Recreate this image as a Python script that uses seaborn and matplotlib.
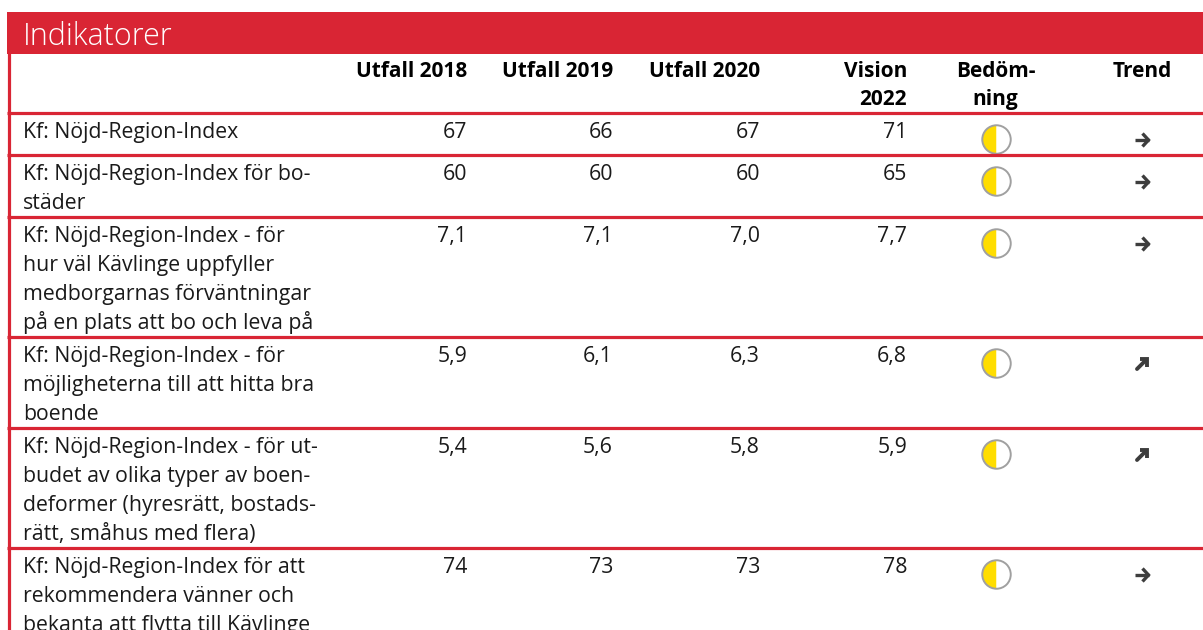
import matplotlib
matplotlib.use("Agg")
import matplotlib.pyplot as plt
from matplotlib.patches import Rectangle
import seaborn as sns

# table content
indicators = [
    ["Kf: Nöjd-Region-Index"],
    ["Kf: Nöjd-Region-Index för bo-", "städer"],
    ["Kf: Nöjd-Region-Index - för", "hur väl Kävlinge uppfyller",
     "medborgarnas förväntningar", "på en plats att bo och leva på"],
    ["Kf: Nöjd-Region-Index - för", "möjligheterna till att hitta bra", "boende"],
    ["Kf: Nöjd-Region-Index - för ut-", "budet av olika typer av boen-",
     "deformer (hyresrätt, bostads-", "rätt, småhus med flera)"],
    ["Kf: Nöjd-Region-Index för att", "rekommendera vänner och",
     "bekanta att flytta till Kävlinge"],
]
utfall_2018 = [67, 60, 7.1, 5.9, 5.4, 74]
utfall_2019 = [66, 60, 7.1, 6.1, 5.6, 73]
utfall_2020 = [67, 60, 7.0, 6.3, 5.8, 73]
vision_2022 = [71, 65, 7.7, 6.8, 5.9, 78]
decimals = [0, 0, 1, 1, 1, 0]
assessment = ["half", "half", "half", "half", "half", "half"]
trend = ["right", "right", "right", "up", "up", "right"]
headers = [["Utfall 2018"], ["Utfall 2019"], ["Utfall 2020"],
           ["Vision", "2022"], ["Bedöm-", "ning"], ["Trend"]]

RED = "#D92534"
TEXT = "#1a1a1a"
ARROW = "#3d3d3d"

sns.set_theme(style="white")
plt.rcParams["font.family"] = ["Open Sans", "DejaVu Sans"]

fig = plt.figure(figsize=(12.03, 6.3), dpi=100)
ax = fig.add_axes([0, 0, 1, 1])
ax.set_xlim(0, 1203)
ax.set_ylim(630, 0)
ax.axis("off")

# header band and left border
ax.add_patch(Rectangle((7, 12), 1203, 41.5, color=RED, lw=0))
ax.plot([8.5, 8.5], [12, 640], color=RED, lw=2.3, solid_capstyle="butt")
ax.text(23, 45, "Indikatorer", color="white", fontsize=22, va="baseline",
        fontweight="light")

num_right = [467, 613, 760, 907]
icon_x = 995.5
trend_x = 1142
line_h = 29
body_fs = 15.3
head_fs = 15.0

# header row
for j, lines in enumerate(headers):
    for k, s in enumerate(lines):
        y = 77 + 28 * k
        if j < 4:
            ax.text(num_right[j], y, s, ha="right", va="baseline",
                    fontsize=head_fs, fontweight="bold", color="black")
        else:
            cx = icon_x if j == 4 else trend_x
            ax.text(cx, y, s, ha="center", va="baseline",
                    fontsize=head_fs, fontweight="bold", color="black")


def fmt(v, d):
    return f"{v:.{d}f}".replace(".", ",")


def draw_arrow(cx, cy, kind):
    if kind == "right":
        ax.plot([cx - 7.5, cx + 6.5], [cy, cy], color=ARROW, lw=2.4,
                solid_capstyle="butt")
        ax.plot([cx + 0.5, cx + 6.5, cx + 0.5], [cy - 6.5, cy, cy + 6.5],
                color=ARROW, lw=2.4, solid_joinstyle="miter",
                solid_capstyle="butt")
    else:
        ax.plot([cx - 5, cx + 4], [cy + 5, cy - 4], color=ARROW, lw=2.8,
                solid_capstyle="round")
        ax.plot([cx - 2.5, cx + 5, cx + 5], [cy - 5, cy - 5, cy + 2.5],
                color=ARROW, lw=2.8, solid_joinstyle="miter",
                solid_capstyle="butt")


top = 113
for i, lines in enumerate(indicators):
    ax.plot([7, 1210], [top, top], color=RED, lw=2.3, solid_capstyle="butt")
    base = top + 25
    for k, s in enumerate(lines):
        ax.text(23, base + line_h * k, s, fontsize=body_fs, color=TEXT,
                va="baseline")
    cols = [utfall_2018, utfall_2019, utfall_2020, vision_2022]
    for j, col in enumerate(cols):
        ax.text(num_right[j], base, fmt(col[i], decimals[i]), ha="right",
                va="baseline", fontsize=body_fs, color=TEXT)
    if assessment[i] == "half":
        ax.plot(icon_x, top + 26, "o", ms=20.5, fillstyle="left",
                markerfacecolor="#FFDD00", markerfacecoloralt="white",
                markeredgecolor="none")
        ax.plot(icon_x, top + 26, "o", ms=20.5, fillstyle="none",
                markeredgecolor="#a0a0a0", markeredgewidth=1.4)
    draw_arrow(trend_x, top + 27, trend[i])
    top += max(line_h * len(lines) + 4, 42)

fig.savefig("out.png", dpi=100)
